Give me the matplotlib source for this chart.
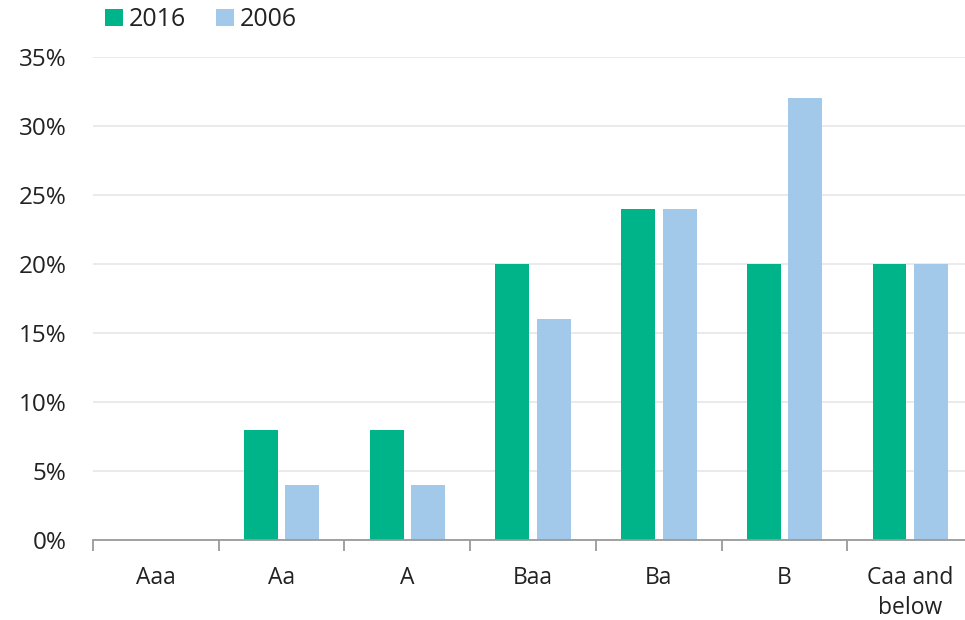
import numpy as np
import matplotlib.pyplot as plt
from matplotlib.ticker import FixedLocator, PercentFormatter

plt.rcParams['font.family'] = ['Open Sans', 'DejaVu Sans']

# Share of issuance by rating bucket (%)
ratings = ["Aaa", "Aa", "A", "Baa", "Ba", "B", "Caa and\nbelow"]
share_2016 = [0, 8, 8, 20, 24, 20, 20]
share_2006 = [0, 4, 4, 16, 24, 32, 20]

green = '#00b48a'
blue = '#a2c8ea'
text_col = '#222222'

fig = plt.figure(figsize=(9.65, 6.2), dpi=100)
ax = fig.add_axes([0.0964, 0.129, 0.912, 0.779])

x = np.arange(len(ratings))
w = 0.27
off = 0.165
ax.bar(x - off, share_2016, width=w, color=green, label='2016', zorder=3)
ax.bar(x + off, share_2006, width=w, color=blue, label='2006', zorder=3)

ax.set_xlim(-0.5, len(ratings) - 0.5)
ax.set_ylim(0, 35)
ax.set_yticks(np.arange(0, 36, 5))
ax.yaxis.set_major_formatter(PercentFormatter(decimals=0))
ax.grid(axis='y', color='#e6e6e6', linewidth=1.2, zorder=0)

for s in ['top', 'right', 'left']:
    ax.spines[s].set_visible(False)
ax.spines['bottom'].set_color('#9a9a9a')
ax.spines['bottom'].set_linewidth(1.3)
ax.spines['bottom'].set_zorder(4)

ax.tick_params(axis='y', length=0, pad=19, labelsize=17.5, labelcolor=text_col)
ax.set_xticks(x)
ax.set_xticklabels(ratings, va='top', linespacing=1.3)
ax.tick_params(axis='x', length=0, pad=19, labelsize=16.5, labelcolor=text_col)
# boundary ticks between rating buckets
ax.xaxis.set_minor_locator(FixedLocator(np.arange(-0.5, len(ratings), 1.0)))
ax.tick_params(axis='x', which='minor', length=8, width=1.3, color='#9a9a9a')

fig.legend(loc='upper left', bbox_to_anchor=(0.086, 1.025), ncol=2, frameon=False,
           fontsize=18, handlelength=0.7, handleheight=0.7, handletextpad=0.25,
           columnspacing=1.2, labelcolor=text_col)

fig.savefig('out.png', dpi=100)
